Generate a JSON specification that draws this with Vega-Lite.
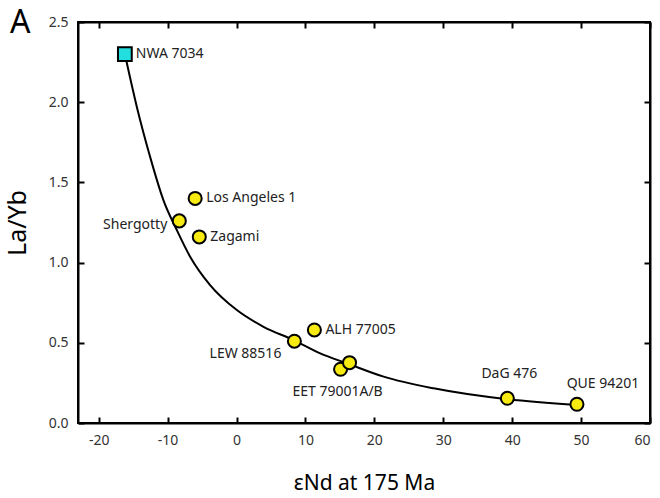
{
  "$schema": "https://vega.github.io/schema/vega-lite/v6.json",
  "width": 572,
  "height": 401,
  "autosize": {"type": "none"},
  "padding": {"left": 78, "top": 22, "right": 10, "bottom": 75},
  "background": "white",
  "title": {"text": "A", "fontSize": 32, "fontWeight": "normal", "font": "Noto Sans", "color": "black", "anchor": "start", "frame": "group", "dx": -68, "dy": 57, "offset": 0, "baseline": "bottom"},
  "config": {
    "view": {"stroke": "black", "strokeWidth": 2},
    "font": "Noto Sans",
    "axis": {
      "domainColor": "black", "domainWidth": 2, "tickColor": "black", "tickWidth": 2,
      "tickSize": -6, "labelPadding": 16, "labelFontSize": 14, "labelColor": "#333333",
      "grid": false, "titleFontWeight": "normal", "titleColor": "black", "labelFont": "Noto Sans", "titleFont": "Noto Sans"
    }
  },
  "datasets": {
    "samples": [
      {"name": "NWA 7034", "x": -16.2, "y": 2.30, "kind": "square"},
      {"name": "Los Angeles 1", "x": -6.0, "y": 1.40, "kind": "circle"},
      {"name": "Shergotty", "x": -8.3, "y": 1.26, "kind": "circle"},
      {"name": "Zagami", "x": -5.4, "y": 1.16, "kind": "circle"},
      {"name": "LEW 88516", "x": 8.4, "y": 0.51, "kind": "circle"},
      {"name": "ALH 77005", "x": 11.3, "y": 0.58, "kind": "circle"},
      {"name": "EET 79001A/B", "x": 15.1, "y": 0.335, "kind": "circle"},
      {"name": "EET 79001B", "x": 16.4, "y": 0.376, "kind": "circle"},
      {"name": "DaG 476", "x": 39.3, "y": 0.154, "kind": "circle"},
      {"name": "QUE 94201", "x": 49.4, "y": 0.117, "kind": "circle"}
    ],
    "curve": [
      {"x": -16.2, "y": 2.30},
      {"x": -14.47, "y": 1.972},
      {"x": -12.54, "y": 1.660},
      {"x": -10.61, "y": 1.390},
      {"x": -8.66, "y": 1.203},
      {"x": -6.73, "y": 1.037},
      {"x": -3.83, "y": 0.860},
      {"x": 0.05, "y": 0.704},
      {"x": 3.92, "y": 0.600},
      {"x": 8.28, "y": 0.517},
      {"x": 12.15, "y": 0.434},
      {"x": 16.03, "y": 0.372},
      {"x": 21.35, "y": 0.289},
      {"x": 28.61, "y": 0.216},
      {"x": 39.27, "y": 0.148},
      {"x": 49.44, "y": 0.112}
    ]
  },
  "resolve": {"axis": {"x": "independent", "y": "independent"}},
  "layer": [
    {
      "data": {"name": "curve"},
      "mark": {"type": "line", "color": "black", "strokeWidth": 2, "interpolate": "monotone"},
      "encoding": {
        "x": {"field": "x", "type": "quantitative", "scale": {"domain": [-23, 60], "nice": false, "zero": false},
              "axis": {"values": [-20, -10, 0, 10, 20, 30, 40, 50, 60], "labelExpr": "replace(datum.label, '−', '-')", "title": "εNd at 175 Ma", "titleFontSize": 21, "titlePadding": 25}},
        "y": {"field": "y", "type": "quantitative", "scale": {"domain": [0, 2.5], "nice": false},
              "axis": {"values": [0, 0.5, 1, 1.5, 2, 2.5], "format": ".1f", "title": "La/Yb", "titleFontSize": 25, "titlePadding": 18}}
      }
    },
    {
      "data": {"name": "samples"},
      "transform": [{"filter": "datum.kind === 'circle'"}],
      "mark": {"type": "point", "shape": "circle", "filled": true, "fill": "#f6ea10", "stroke": "black", "strokeWidth": 2, "size": 170, "opacity": 1},
      "encoding": {
        "x": {"field": "x", "type": "quantitative", "axis": {"orient": "top", "labels": false, "title": null, "values": [-20, -10, 0, 10, 20, 30, 40, 50, 60]}},
        "y": {"field": "y", "type": "quantitative", "axis": {"orient": "right", "labels": false, "title": null, "values": [0, 0.5, 1, 1.5, 2, 2.5]}}
      }
    },
    {
      "data": {"name": "samples"},
      "transform": [{"filter": "datum.kind === 'square'"}],
      "mark": {"type": "point", "shape": "square", "filled": true, "fill": "#22dede", "stroke": "black", "strokeWidth": 2, "size": 190, "opacity": 1},
      "encoding": {
        "x": {"field": "x", "type": "quantitative", "axis": null},
        "y": {"field": "y", "type": "quantitative", "axis": null}
      }
    },
    {
      "data": {"name": "samples"},
      "transform": [{"filter": "indexof(['NWA 7034','Los Angeles 1','Zagami','ALH 77005'], datum.name) >= 0"}],
      "mark": {"type": "text", "align": "left", "baseline": "middle", "dx": 11, "fontSize": 14, "color": "#222222"},
      "encoding": {
        "x": {"field": "x", "type": "quantitative", "axis": null},
        "y": {"field": "y", "type": "quantitative", "axis": null},
        "text": {"field": "name"}
      }
    },
    {
      "data": {"name": "samples"},
      "transform": [{"filter": "datum.name === 'Shergotty'"}],
      "mark": {"type": "text", "align": "right", "baseline": "middle", "dx": -12, "dy": 4, "fontSize": 14, "color": "#222222"},
      "encoding": {
        "x": {"field": "x", "type": "quantitative", "axis": null},
        "y": {"field": "y", "type": "quantitative", "axis": null},
        "text": {"field": "name"}
      }
    },
    {
      "data": {"name": "samples"},
      "transform": [{"filter": "datum.name === 'LEW 88516'"}],
      "mark": {"type": "text", "align": "right", "baseline": "middle", "dx": -13, "dy": 13, "fontSize": 14, "color": "#222222"},
      "encoding": {
        "x": {"field": "x", "type": "quantitative", "axis": null},
        "y": {"field": "y", "type": "quantitative", "axis": null},
        "text": {"field": "name"}
      }
    },
    {
      "data": {"name": "samples"},
      "transform": [{"filter": "datum.name === 'EET 79001A/B'"}],
      "mark": {"type": "text", "align": "center", "baseline": "middle", "dx": -3, "dy": 23, "fontSize": 14, "color": "#222222"},
      "encoding": {
        "x": {"field": "x", "type": "quantitative", "axis": null},
        "y": {"field": "y", "type": "quantitative", "axis": null},
        "text": {"field": "name"}
      }
    },
    {
      "data": {"name": "samples"},
      "transform": [{"filter": "datum.name === 'DaG 476'"}],
      "mark": {"type": "text", "align": "center", "baseline": "middle", "dx": 2, "dy": -24, "fontSize": 14, "color": "#222222"},
      "encoding": {
        "x": {"field": "x", "type": "quantitative", "axis": null},
        "y": {"field": "y", "type": "quantitative", "axis": null},
        "text": {"field": "name"}
      }
    },
    {
      "data": {"name": "samples"},
      "transform": [{"filter": "datum.name === 'QUE 94201'"}],
      "mark": {"type": "text", "align": "center", "baseline": "middle", "dx": 26, "dy": -20, "fontSize": 14, "color": "#222222"},
      "encoding": {
        "x": {"field": "x", "type": "quantitative", "axis": null},
        "y": {"field": "y", "type": "quantitative", "axis": null},
        "text": {"field": "name"}
      }
    }
  ]
}
